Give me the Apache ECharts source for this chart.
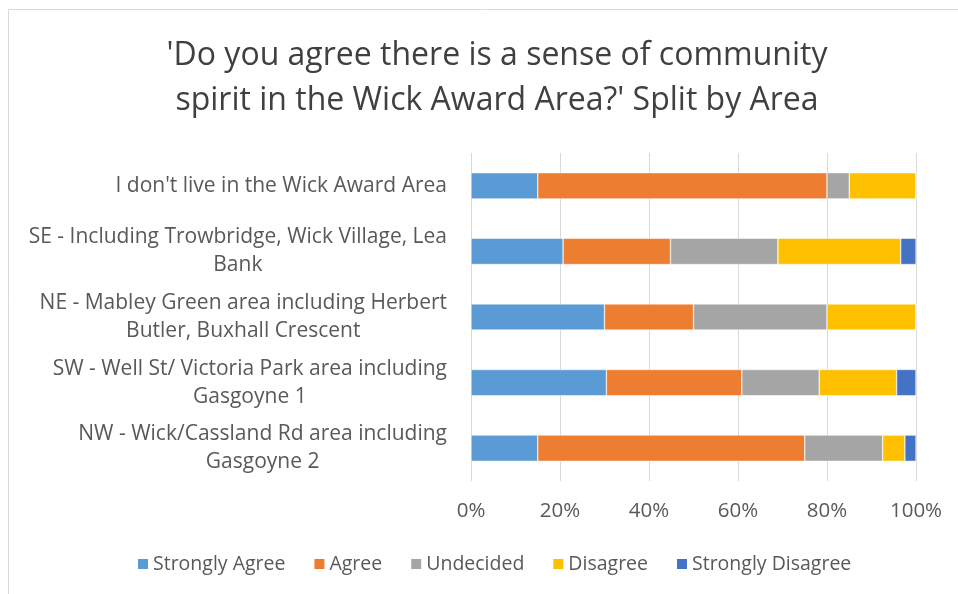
<!DOCTYPE html>
<html>
<head>
<meta charset="utf-8">
<script src="https://cdn.jsdelivr.net/npm/echarts@6/dist/echarts.min.js"></script>
<style>
html,body{margin:0;padding:0;background:#fff;}
#chart{width:958px;height:594px;}
</style>
</head>
<body>
<div id="chart"></div>
<script>
var titleText = "'Do you agree there is a sense of community\nspirit in the Wick Award Area?' Split by Area";
var categories = [
  "NW - Wick/Cassland Rd area including\nGasgoyne 2",
  "SW - Well St/ Victoria Park area including\nGasgoyne 1",
  "NE - Mabley Green area including Herbert\nButler, Buxhall Crescent",
  "SE - Including Trowbridge, Wick Village, Lea\nBank",
  "I don't live in the Wick Award Area"
];
var seriesNames = ["Strongly Agree", "Agree", "Undecided", "Disagree", "Strongly Disagree"];
var stronglyAgree    = [15, 30.43, 30, 20.69, 15];
var agree            = [60, 30.43, 20, 24.14, 65];
var undecided        = [17.5, 17.39, 30, 24.14, 5];
var disagree         = [5, 17.39, 20, 27.59, 15];
var stronglyDisagree = [2.5, 4.35, 0, 3.45, 0];
var tickLabels = ["0%", "20%", "40%", "60%", "80%", "100%"];
var colors = ["#5B9BD5", "#ED7D31", "#A5A5A5", "#FFC000", "#4472C4"];
var seriesData = [stronglyAgree, agree, undecided, disagree, stronglyDisagree];

var font = "'Open Sans', sans-serif";
var chart = echarts.init(document.getElementById('chart'), null, {renderer: 'canvas'});
chart.setOption({
  animation: false,
  color: colors,
  graphic: [{
    type: 'rect', shape: {x: 8.5, y: 9.5, width: 1000, height: 1000},
    style: {fill: 'none', stroke: '#d9d9d9', lineWidth: 1}, silent: true, z: -1
  }],
  title: {
    text: titleText, left: 492, top: 28, textAlign: 'center',
    textStyle: {fontFamily: font, fontSize: 32, fontWeight: 'normal', color: '#404040', lineHeight: 45}
  },
  legend: {
    data: seriesNames, bottom: 15, left: 131, itemWidth: 12, itemHeight: 12, itemGap: 27,
    icon: 'rect',
    textStyle: {fontFamily: font, fontSize: 19.5, color: '#595959', padding: [0, 0, 0, -1]}
  },
  grid: {left: 471, right: 42, top: 153, bottom: 113, containLabel: false},
  xAxis: {
    type: 'value', min: 0, max: 100, interval: 20,
    axisLabel: {
      fontFamily: font, fontSize: 20.5, color: '#595959', margin: 20,
      formatter: function (v) { return tickLabels[Math.round(v / 20)]; }
    },
    splitLine: {lineStyle: {color: '#d9d9d9', width: 1}},
    axisLine: {show: false}, axisTick: {show: false}
  },
  yAxis: {
    type: 'category', data: categories,
    axisLine: {show: false}, axisTick: {show: false},
    axisLabel: {
      fontFamily: font, fontSize: 21, color: '#595959', margin: 24, lineHeight: 28,
      formatter: function (v) {
        return v.split('\n').map(function (l) { return '{c|' + l + '}'; }).join('\n');
      },
      rich: {c: {align: 'center', fontFamily: font, fontSize: 21, color: '#595959', lineHeight: 28}}
    }
  },
  series: seriesNames.map(function (n, i) {
    return {
      name: n, type: 'bar', stack: 'total', barWidth: '40%',
      data: seriesData[i],
      itemStyle: {borderColor: '#fff', borderWidth: 0.5}
    };
  })
});
</script>
</body>
</html>
